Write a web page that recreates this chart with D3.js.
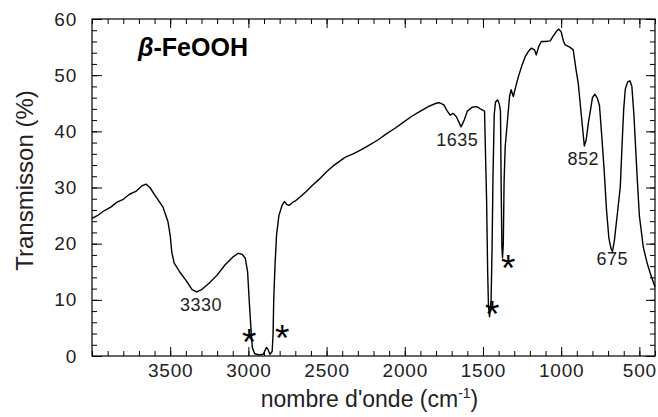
<!DOCTYPE html>
<html>
<head>
<meta charset="utf-8">
<script src="https://cdn.jsdelivr.net/npm/d3@7"></script>
<style>
  body { margin: 0; background: #fff; }
  svg { display: block; font-family: "Liberation Sans", Arial, sans-serif; }
</style>
</head>
<body>
<div id="chart"></div>
<script>
// IR spectrum of beta-FeOOH
const wavenumber = [
  4000, 3960, 3920, 3880, 3840, 3800, 3760, 3720, 3680, 3655, 3630, 3597, 3546, 3515, 3500, 3490, 3475,
  3440, 3400, 3360, 3330, 3300, 3250, 3200, 3150, 3100, 3065, 3040, 3020, 3005, 2995, 2985, 2975,
  2960, 2930, 2905, 2885, 2875, 2862, 2848, 2842, 2838, 2830, 2820, 2805, 2785, 2770, 2755, 2740,
  2720, 2700, 2670, 2630, 2590, 2550, 2500, 2460, 2420, 2380, 2330, 2280, 2230, 2170, 2120, 2060,
  2010, 1960, 1900, 1850, 1800, 1780, 1750, 1730, 1710, 1690, 1670, 1640, 1620, 1600, 1570, 1540,
  1505, 1490, 1483, 1477, 1470, 1465, 1458, 1448, 1442, 1436, 1428, 1420, 1405, 1395, 1388, 1384,
  1379, 1375, 1370, 1365, 1358, 1345, 1330, 1320, 1306, 1290, 1274, 1250, 1230, 1210, 1191, 1170,
  1159, 1145, 1127, 1100, 1070, 1050, 1030, 1015, 1000, 985, 974, 945, 923, 905, 891, 875, 860,
  852, 840, 826, 814, 800, 785, 770, 755, 740, 725, 710, 695, 680, 672, 660, 640, 622, 610, 600,
  590, 575, 560, 548, 535, 520, 513, 500, 475, 450, 430, 415, 400
];
const transmission = [
  24.5, 25.1, 25.9, 26.5, 27.4, 27.9, 28.8, 29.3, 30.3, 30.6, 30.0, 28.6, 26.5, 24.0, 21.5, 18.5, 16.6,
  15.0, 13.5, 11.8, 11.4, 11.8, 13.0, 14.4, 16.2, 17.6, 18.3, 18.1, 17.4, 15.0, 10.0, 5.5, 1.5,
  0.4, 0.2, 0.3, 1.5, 1.2, 0.3, 0.8, 4.0, 10.0, 16.0, 21.5, 25.0, 26.8, 27.5, 27.0, 26.8,
  27.3, 27.6, 28.3, 29.3, 30.4, 31.4, 32.8, 33.8, 34.6, 35.4, 36.0, 36.7, 37.5, 38.5, 39.5, 40.6,
  41.6, 42.6, 43.6, 44.4, 45.0, 45.1, 44.7, 43.7, 42.9, 43.2, 42.6, 40.8, 42.0, 43.6, 44.3, 44.4,
  43.8, 43.6, 35.0, 28.0, 15.0, 9.0, 7.0, 10.0, 18.9, 31.8, 43.0, 45.2, 45.6, 44.8, 43.5, 31.0,
  19.4, 17.5, 20.0, 31.0, 37.2, 41.4, 46.2, 47.4, 46.2, 48.0, 49.7, 51.8, 53.3, 54.2, 54.8, 54.5,
  53.6, 55.0, 56.0, 56.0, 56.1, 57.0, 57.8, 58.2, 57.7, 56.0, 55.4, 55.0, 54.5, 51.0, 48.6, 44.0, 39.7,
  37.4, 38.5, 41.5, 43.5, 46.0, 46.6, 46.0, 44.6, 39.0, 33.0, 26.0, 21.0, 19.0, 18.6, 20.5, 25.5, 30.1, 38.0, 44.0,
  47.5, 48.8, 49.0, 48.0, 43.0, 35.0, 31.3, 25.0, 19.4, 16.5, 14.7, 13.5, 12.3
];

const xTicks = [3500, 3000, 2500, 2000, 1500, 1000, 500];
const yTicks = [0, 10, 20, 30, 40, 50, 60];

// band labels and solvent marks (wavenumber, transmission)
const bandLabels = ["3330", "1635", "852", "675"];
const bandX = [3303, 1665, 859, 673];
const bandY = [8.1, 37.4, 34.0, 16.2];
const starX = [2995, 2784, 1441, 1338];
const starY = [3.9, 4.6, 8.9, 17.1];

const width = 658, height = 417;
const margin = { top: 19, right: 3, bottom: 61, left: 92 };
const iw = width - margin.left - margin.right;
const ih = height - margin.top - margin.bottom;

const svg = d3.select('#chart').append('svg')
  .attr('width', width)
  .attr('height', height);

const g = svg.append('g').attr('transform', `translate(${margin.left},${margin.top})`);

const x = d3.scaleLinear().domain([4000, 400]).range([0, iw]);
const y = d3.scaleLinear().domain([0, 60]).range([ih, 0]);

const xMinor = d3.range(400, 4001, 100);
const yMinor = d3.range(0, 61, 2);

// minor ticks on all four sides
g.append('g').attr('transform', `translate(0,${ih})`)
  .call(d3.axisBottom(x).tickValues(xMinor).tickSize(-5).tickFormat(''));
g.append('g')
  .call(d3.axisTop(x).tickValues(xMinor).tickSize(-5).tickFormat(''));
g.append('g')
  .call(d3.axisLeft(y).tickValues(yMinor).tickSize(-5).tickFormat(''));
g.append('g').attr('transform', `translate(${iw},0)`)
  .call(d3.axisRight(y).tickValues(yMinor).tickSize(-5).tickFormat(''));

// major ticks
g.append('g').attr('class', 'xaxis').attr('transform', `translate(0,${ih})`)
  .call(d3.axisBottom(x).tickValues(xTicks).tickSize(-9).tickPadding(8).tickFormat(d3.format('d')));
g.append('g')
  .call(d3.axisTop(x).tickValues(xTicks).tickSize(-9).tickFormat(''));
g.append('g').attr('class', 'yaxis')
  .call(d3.axisLeft(y).tickValues(yTicks).tickSize(-10).tickPadding(15).tickFormat(d3.format('d')));
g.append('g').attr('transform', `translate(${iw},0)`)
  .call(d3.axisRight(y).tickValues(yTicks).tickSize(-9).tickFormat(''));

g.selectAll('.domain').remove();
g.selectAll('.tick line').attr('stroke', '#000').attr('stroke-width', 1);
g.selectAll('.tick text')
  .attr('fill', '#222')
  .style('font-size', '19px')
  .style('letter-spacing', '0.8px')
  .style('font-family', '"Liberation Sans", Arial, sans-serif');

// frame
g.append('rect')
  .attr('width', iw).attr('height', ih)
  .attr('fill', 'none').attr('stroke', '#000').attr('stroke-width', 1.2);

// spectrum
const pts = wavenumber.map((w, i) => [w, transmission[i]]);
g.append('path')
  .datum(pts)
  .attr('fill', 'none')
  .attr('stroke', '#000')
  .attr('stroke-width', 1.4)
  .attr('stroke-linejoin', 'round')
  .attr('d', d3.line().x(d => x(d[0])).y(d => y(d[1])));

// band labels
g.selectAll('.band')
  .data(bandLabels)
  .enter()
  .append('text')
  .attr('class', 'band')
  .attr('x', (d, i) => x(bandX[i]))
  .attr('y', (d, i) => y(bandY[i]))
  .attr('text-anchor', 'middle')
  .attr('fill', '#222')
  .style('font-size', '18px')
  .style('letter-spacing', '0.5px')
  .text(d => d);

// asterisks
g.selectAll('.star')
  .data(starX)
  .enter()
  .append('text')
  .attr('class', 'star')
  .attr('x', (d) => x(d))
  .attr('y', (d, i) => y(starY[i]) + 21)
  .attr('text-anchor', 'middle')
  .attr('fill', '#000')
  .style('font-size', '37px')
  .text('*');

// title
const title = g.append('text')
  .attr('x', 46)
  .attr('y', 37)
  .style('font-size', '25px')
  .style('font-weight', 'bold')
  .attr('fill', '#000');
title.append('tspan').style('font-style', 'italic').text('β');
title.append('tspan').text('-FeOOH');

// axis titles
const xt = svg.append('text')
  .attr('x', margin.left + iw / 2 - 4)
  .attr('y', 407)
  .attr('text-anchor', 'middle')
  .attr('fill', '#222')
  .style('font-size', '23px');
xt.append('tspan').text("nombre d'onde (cm");
xt.append('tspan').attr('dy', -9).style('font-size', '14px').text('-1');
xt.append('tspan').attr('dy', 9).text(')');

svg.append('text')
  .attr('transform', `translate(33,${margin.top + ih / 2 - 7}) rotate(-90)`)
  .attr('text-anchor', 'middle')
  .attr('fill', '#222')
  .style('font-size', '24px')
  .text('Transmisson (%)');
</script>
</body>
</html>
